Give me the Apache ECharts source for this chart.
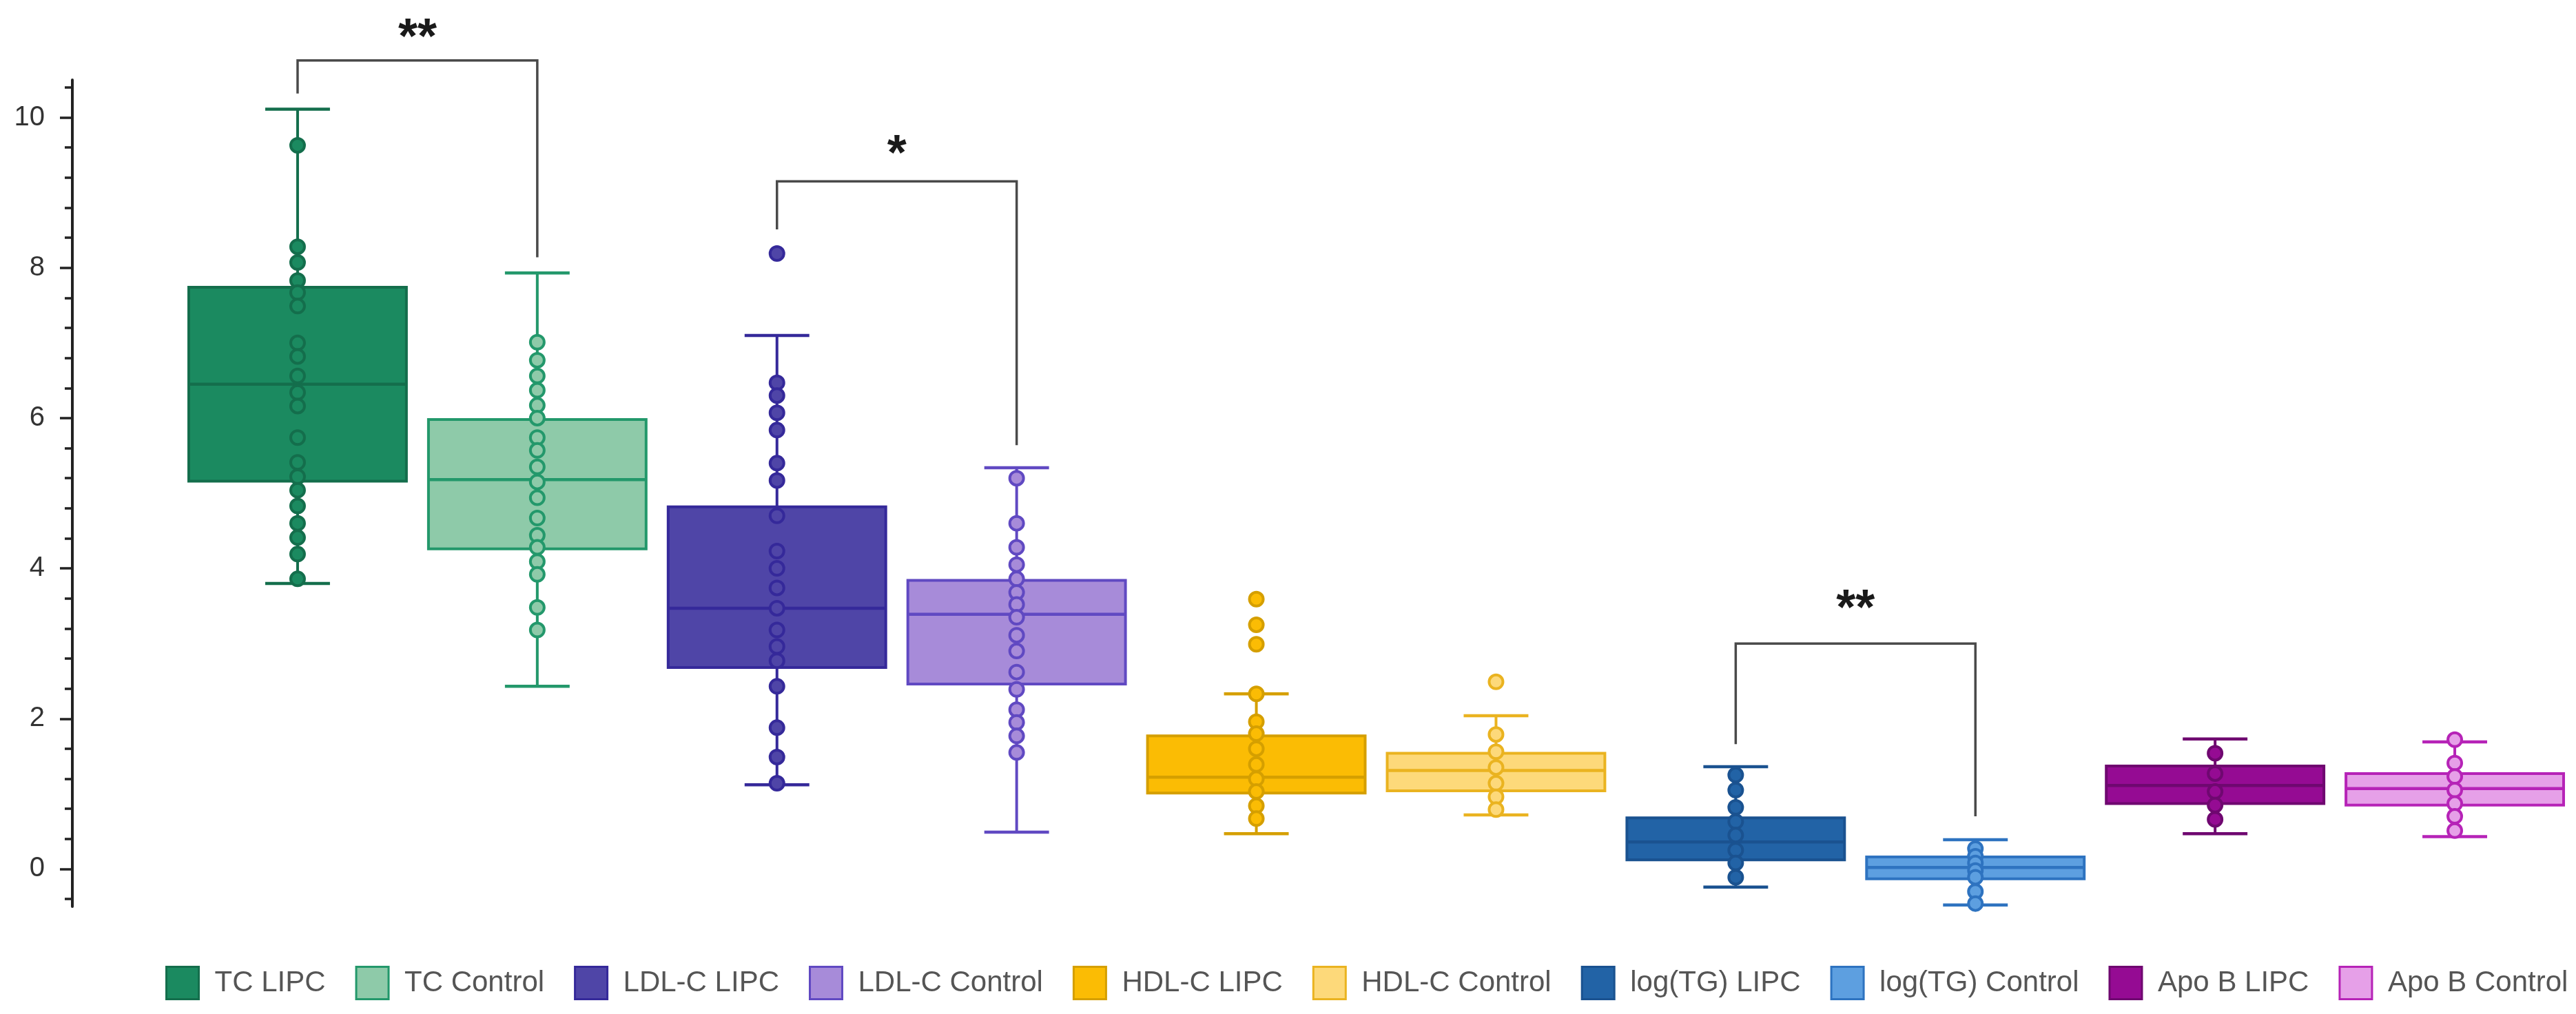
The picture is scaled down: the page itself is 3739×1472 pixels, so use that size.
<!DOCTYPE html>
<html>
<head>
<meta charset="utf-8">
<style>
  html, body { margin: 0; padding: 0; background: #ffffff; }
  #chart { width: 3739px; height: 1472px; }
</style>
<script src="https://cdn.jsdelivr.net/npm/echarts@6/dist/echarts.min.js"></script>
</head>
<body>
<div id="chart"></div>
<script>
// ---------------- DATA ----------------
const categories = ['TC LIPC', 'TC Control', 'LDL-C LIPC', 'LDL-C Control', 'HDL-C LIPC',
  'HDL-C Control', 'log(TG) LIPC', 'log(TG) Control', 'Apo B LIPC', 'Apo B Control'];

const whiskerLow  = [3.80, 2.43, 1.12, 0.49, 0.47, 0.72, -0.24, -0.48, 0.47, 0.43];
const q1Values    = [5.16, 4.26, 2.68, 2.46, 1.01, 1.04, 0.12, -0.13, 0.87, 0.85];
const medianVals  = [6.45, 5.18, 3.47, 3.39, 1.22, 1.31, 0.36, 0.02, 1.11, 1.07];
const q3Values    = [7.74, 5.98, 4.82, 3.84, 1.77, 1.54, 0.68, 0.16, 1.37, 1.27];
const whiskerHigh = [10.11, 7.93, 7.10, 5.34, 2.33, 2.04, 1.36, 0.39, 1.73, 1.69];

const pointsTcLipc    = [9.63, 8.28, 8.07, 7.83, 7.67, 7.49, 7.00, 6.82, 6.56, 6.34, 6.16, 5.74, 5.41, 5.22, 5.04, 4.83, 4.60, 4.41, 4.19, 3.86];
const pointsTcCtrl    = [7.01, 6.77, 6.56, 6.37, 6.17, 6.00, 5.74, 5.57, 5.35, 5.15, 4.94, 4.67, 4.44, 4.28, 4.09, 3.92, 3.48, 3.18];
const pointsLdlLipc   = [8.19, 6.47, 6.30, 6.07, 5.84, 5.40, 5.17, 4.70, 4.23, 4.00, 3.74, 3.47, 3.18, 2.96, 2.77, 2.43, 1.88, 1.49, 1.14];
const pointsLdlCtrl   = [5.20, 4.60, 4.28, 4.05, 3.86, 3.68, 3.52, 3.35, 3.11, 2.90, 2.62, 2.39, 2.12, 1.95, 1.77, 1.55];
const pointsHdlLipc   = [3.59, 3.25, 2.99, 2.33, 1.96, 1.80, 1.60, 1.39, 1.20, 1.03, 0.84, 0.67];
const pointsHdlCtrl   = [2.49, 1.79, 1.56, 1.35, 1.14, 0.96, 0.79];
const pointsTgLipc    = [1.25, 1.05, 0.82, 0.63, 0.45, 0.25, 0.08, -0.11];
const pointsTgCtrl    = [0.27, 0.17, 0.08, -0.02, -0.11, -0.30, -0.46];
const pointsApoLipc   = [1.54, 1.27, 1.03, 0.85, 0.66];
const pointsApoCtrl   = [1.72, 1.41, 1.23, 1.05, 0.87, 0.70, 0.51];
const groupPoints = [pointsTcLipc, pointsTcCtrl, pointsLdlLipc, pointsLdlCtrl, pointsHdlLipc,
  pointsHdlCtrl, pointsTgLipc, pointsTgCtrl, pointsApoLipc, pointsApoCtrl];

// significance brackets
const sigLeft     = [0, 2, 6];
const sigRight    = [1, 3, 7];
const sigTop      = [10.76, 9.15, 3.00];
const sigLeftEnd  = [10.32, 8.51, 1.66];
const sigRightEnd = [8.14, 5.64, 0.70];
const sigStarY    = [11.19, 9.64, 3.59];
const sigLabels   = ['**', '*', '**'];

// y-axis ticks
const yLabelTicks = [0, 2, 4, 6, 8, 10];
const yMinorTicks = [-0.4, 0.4, 0.8, 1.2, 1.6, 2.4, 2.8, 3.2, 3.6, 4.4, 4.8, 5.2, 5.6,
  6.4, 6.8, 7.2, 7.6, 8.4, 8.8, 9.2, 9.6, 10.4];

// ---------------- STYLES ----------------
const fillColors   = ['#1b8a60', '#8ecaa9', '#4f45a7', '#a78bd9', '#fbbc04', '#fdd97a', '#2263a6', '#5d9fe0', '#950b93', '#e6a0e8'];
const borderColors = ['#146e4c', '#23986b', '#35299a', '#6049c2', '#d59f00', '#eab320', '#1a5290', '#2e73c0', '#6f0870', '#b623b7'];
const FONT = "'Liberation Sans', Arial, sans-serif";

function renderBox(params, api) {
  const idx = api.value(0);
  const pLo = api.coord([idx, api.value(1)]);
  const pQ1 = api.coord([idx, api.value(2)]);
  const pMed = api.coord([idx, api.value(3)]);
  const pQ3 = api.coord([idx, api.value(4)]);
  const pHi = api.coord([idx, api.value(5)]);
  const band = api.size([1, 0])[0];
  const boxW = band * 0.908;
  const capW = band * 0.27;
  const cx = pMed[0];
  const fill = fillColors[idx], stroke = borderColors[idx];
  return {
    type: 'group',
    children: [
      { type: 'line', shape: { x1: cx, y1: pHi[1], x2: cx, y2: pQ3[1] }, style: { stroke: stroke, lineWidth: 4 } },
      { type: 'line', shape: { x1: cx, y1: pQ1[1], x2: cx, y2: pLo[1] }, style: { stroke: stroke, lineWidth: 4 } },
      { type: 'line', shape: { x1: cx - capW / 2, y1: pHi[1], x2: cx + capW / 2, y2: pHi[1] }, style: { stroke: stroke, lineWidth: 4.5 } },
      { type: 'line', shape: { x1: cx - capW / 2, y1: pLo[1], x2: cx + capW / 2, y2: pLo[1] }, style: { stroke: stroke, lineWidth: 4.5 } },
      { type: 'rect', shape: { x: cx - boxW / 2, y: pQ3[1], width: boxW, height: pQ1[1] - pQ3[1] },
        style: { fill: fill, stroke: stroke, lineWidth: 4 } },
      { type: 'line', shape: { x1: cx - boxW / 2, y1: pMed[1], x2: cx + boxW / 2, y2: pMed[1] }, style: { stroke: stroke, lineWidth: 4.5 } }
    ]
  };
}

function renderSig(params, api) {
  const i = params.dataIndex;
  const x1 = api.value(0), x2 = api.value(1);
  const pTL = api.coord([x1, api.value(2)]);
  const pTR = api.coord([x2, api.value(2)]);
  const pL = api.coord([x1, api.value(3)]);
  const pR = api.coord([x2, api.value(4)]);
  const pS = api.coord([x1, api.value(5)]);
  const fs = 72;
  return {
    type: 'group',
    children: [
      { type: 'polyline', shape: { points: [pL, pTL, pTR, pR] }, style: { stroke: '#4a4a4a', lineWidth: 3.5, fill: null } },
      { type: 'text', x: (pTL[0] + pTR[0]) / 2, y: pS[1] + fs * 0.23,
        style: { text: sigLabels[i], fontSize: fs, fontWeight: 'bold', fontFamily: FONT, fill: '#1a1a1a', align: 'center', verticalAlign: 'middle' } }
    ]
  };
}

const series = [];
categories.forEach(function (name, i) {
  series.push({
    name: name,
    type: 'custom',
    renderItem: renderBox,
    silent: true,
    z: 2,
    encode: { x: 0, y: [1, 2, 3, 4, 5] },
    data: [[i, whiskerLow[i], q1Values[i], medianVals[i], q3Values[i], whiskerHigh[i]]]
  });
  series.push({
    name: name,
    type: 'scatter',
    silent: true,
    z: 5,
    symbol: 'circle',
    symbolSize: 20,
    itemStyle: { color: fillColors[i], borderColor: borderColors[i], borderWidth: 4, opacity: 1 },
    data: groupPoints[i].map(function (v) { return [i, v]; })
  });
});
series.push({
  name: 'significance',
  type: 'custom',
  renderItem: renderSig,
  silent: true,
  clip: false,
  z: 6,
  encode: { x: 0, y: [2, 3, 4, 5] },
  data: sigLeft.map(function (l, k) { return [l, sigRight[k], sigTop[k], sigLeftEnd[k], sigRightEnd[k], sigStarY[k]]; })
});

const chart = echarts.init(document.getElementById('chart'), null, { renderer: 'canvas' });
chart.setOption({
  backgroundColor: '#ffffff',
  animation: false,
  grid: { left: 258, right: 2, top: 116, bottom: 156, containLabel: false },
  legend: {
    left: 235,
    top: 1397,
    itemWidth: 47,
    itemHeight: 47,
    itemGap: 43,
    selectedMode: false,
    textStyle: { fontSize: 42, color: '#555555', fontFamily: FONT, padding: [0, 0, 0, 18] },
    data: categories.map(function (name, i) {
      return { name: name, icon: 'rect', itemStyle: { color: fillColors[i], borderColor: borderColors[i], borderWidth: 3 } };
    })
  },
  xAxis: {
    type: 'category',
    data: categories,
    boundaryGap: true,
    axisLine: { show: false },
    axisTick: { show: false },
    axisLabel: { show: false },
    splitLine: { show: false }
  },
  yAxis: [
    {
      type: 'value',
      min: -0.5,
      max: 10.5,
      position: 'left',
      offset: 153,
      axisLine: { show: true, lineStyle: { color: '#222222', width: 4 } },
      axisTick: { show: true, length: 18, lineStyle: { color: '#222222', width: 3.5 }, customValues: yLabelTicks },
      axisLabel: { show: true, customValues: yLabelTicks, fontSize: 40, color: '#333333', fontFamily: FONT, margin: 40 },
      splitLine: { show: false }
    },
    {
      type: 'value',
      min: -0.5,
      max: 10.5,
      position: 'left',
      offset: 153,
      axisLine: { show: false },
      axisTick: { show: true, length: 11, lineStyle: { color: '#222222', width: 3.5 }, customValues: yMinorTicks },
      axisLabel: { show: false },
      splitLine: { show: false }
    }
  ],
  series: series
});
</script>
</body>
</html>
